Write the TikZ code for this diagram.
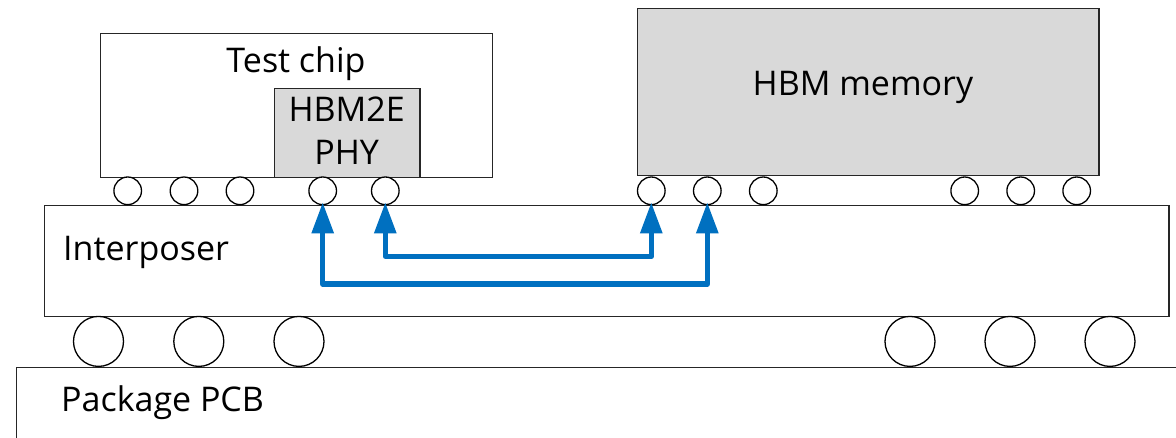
\documentclass[tikz,border=0pt]{standalone}
\usepackage{fontspec}
\setmainfont{Open Sans}
\usetikzlibrary{arrows.meta}
\definecolor{linkblue}{HTML}{0070C0}
\definecolor{chipgray}{HTML}{D9D9D9}
\definecolor{edge}{HTML}{262626}
\tikzset{
  blockbox/.style={draw=edge, line width=1.4pt, fill=white, inner sep=0pt, anchor=north west},
  grayblock/.style={blockbox, fill=chipgray},
  ubump/.style={circle, draw=black, line width=1.3pt, fill=white, minimum size=27.6pt, inner sep=0pt},
  cbump/.style={circle, draw=black, line width=1.3pt, fill=white, minimum size=50pt, inner sep=0pt},
  lbl/.style={font=\fontsize{34}{40}\selectfont, inner sep=0pt},
  link/.style={draw=linkblue, line width=5.5pt, line join=round,
    {Triangle[length=31pt,width=21pt]}-{Triangle[length=31pt,width=21pt]},
    shorten <=-3pt, shorten >=-3pt}
}
\begin{document}
\begin{tikzpicture}[x=1pt,y=-1pt]
\useasboundingbox (0,0) rectangle (1176,437);
\clip (0,0) rectangle (1176,437);
% package PCB
\node[blockbox, minimum width=1200pt, minimum height=120pt] (pcb) at (16,366.7) {};
% interposer
\node[blockbox, minimum width=1124.3pt, minimum height=111.5pt] (interposer) at (44,204.5) {};
% test chip
\node[blockbox, minimum width=391.7pt, minimum height=144pt] (testchip) at (100,32.7) {};
\node[grayblock, minimum width=145.3pt, minimum height=88.7pt] (phy) at (274,88) {};
% HBM memory
\node[grayblock, minimum width=461.3pt, minimum height=167.5pt] (hbm) at (637,7.5) {};
% micro bumps under test chip
\node[ubump] (t1) at (127.7,190.8) {};
\node[ubump] (t2) at (184,190.8) {};
\node[ubump] (t3) at (240,190.8) {};
\node[ubump] (t4) at (322.7,190.8) {};
\node[ubump] (t5) at (385.3,190.8) {};
% micro bumps under HBM
\node[ubump] (h1) at (651.3,190.8) {};
\node[ubump] (h2) at (707.3,190.8) {};
\node[ubump] (h3) at (763.3,190.8) {};
\node[ubump] (h4) at (964.7,190.8) {};
\node[ubump] (h5) at (1020.7,190.8) {};
\node[ubump] (h6) at (1076.7,190.8) {};
% C4 bumps
\node[cbump] (c1) at (98.5,341.4) {};
\node[cbump] (c2) at (198.8,341.4) {};
\node[cbump] (c3) at (299,341.4) {};
\node[cbump] (c4) at (910,341.4) {};
\node[cbump] (c5) at (1010,341.4) {};
\node[cbump] (c6) at (1110,341.4) {};
% labels
\node[lbl, anchor=base] (ltest) at (296,72.3) {Test chip};
\node[lbl, anchor=base] (lphy1) at (346.7,121.7) {HBM2E};
\node[lbl, anchor=base] (lphy2) at (346.7,164) {PHY};
\node[lbl, anchor=base] (lhbm) at (863,95) {HBM memory};
\node[lbl, anchor=base west] (lint) at (63,260) {Interposer};
\node[lbl, anchor=base west] (lpcb) at (61,411.7) {Package PCB};
% routing
\coordinate (inner) at (0,256.3);
\coordinate (outer) at (0,284);
\draw[link] (t5.south) -- (t5.south |- inner) -| (h1.south);
\draw[link] (t4.south) -- (t4.south |- outer) -| (h2.south);
\end{tikzpicture}
\end{document}
